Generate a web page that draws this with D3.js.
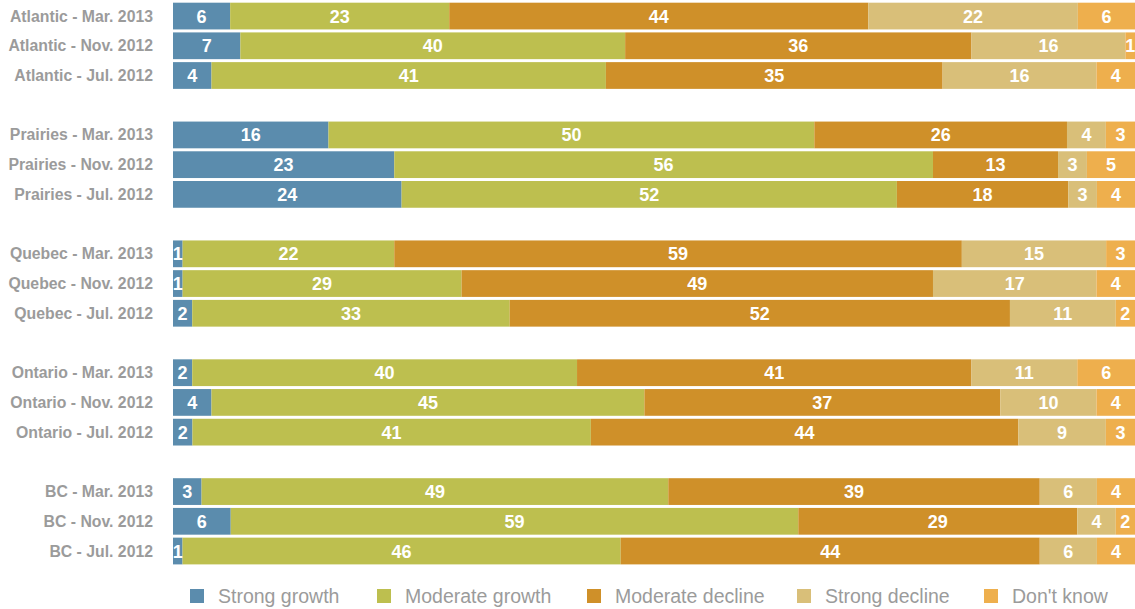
<!DOCTYPE html>
<html>
<head>
<meta charset="utf-8">
<script src="https://cdn.jsdelivr.net/npm/d3@7"></script>
<style>
  body { margin: 0; background: #fff; }
  svg { display: block; font-family: "Liberation Sans", Arial, Helvetica, sans-serif; }
  .row-label { fill: #9b9b9b; font-weight: bold; font-size: 15.8px; }
  .value { fill: #fff; font-weight: bold; font-size: 18px; }
  .legend-text { fill: #9b9b9b; font-size: 19.5px; }
</style>
</head>
<body>
<div id="chart"></div>
<script>
const categories = ["Strong growth", "Moderate growth", "Moderate decline", "Strong decline", "Don't know"];
const colors = ["#5b8cad", "#bdbf4f", "#cf9029", "#d9bf79", "#eeaf4d"];

const regions = ["Atlantic", "Prairies", "Quebec", "Ontario", "BC"];
const periods = ["Mar. 2013", "Nov. 2012", "Jul. 2012"];

// one row per region/period, values in category order
const atlanticValues = [[6, 23, 44, 22, 6], [7, 40, 36, 16, 1], [4, 41, 35, 16, 4]];
const prairiesValues = [[16, 50, 26, 4, 3], [23, 56, 13, 3, 5], [24, 52, 18, 3, 4]];
const quebecValues = [[1, 22, 59, 15, 3], [1, 29, 49, 17, 4], [2, 33, 52, 11, 2]];
const ontarioValues = [[2, 40, 41, 11, 6], [4, 45, 37, 10, 4], [2, 41, 44, 9, 3]];
const bcValues = [[3, 49, 39, 6, 4], [6, 59, 29, 4, 2], [1, 46, 44, 6, 4]];

const valuesByRegion = [atlanticValues, prairiesValues, quebecValues, ontarioValues, bcValues];

const width = 1135;
const height = 609;

const rows = [];
const yDomain = [];
regions.forEach((region, g) => {
  if (g > 0) yDomain.push("gap-" + g);
  periods.forEach((period, p) => {
    const label = `${region} - ${period}`;
    yDomain.push(label);
    rows.push({ label, values: valuesByRegion[g][p] });
  });
});

const svg = d3.select("#chart")
  .append("svg")
  .attr("width", width)
  .attr("height", height);

const y = d3.scaleBand()
  .domain(yDomain)
  .range([1.2, 1.2 + yDomain.length * 29.72])
  .paddingInner(0.1)
  .paddingOuter(0.05);

const barLeft = 173;
const barRight = 1135;

const color = d3.scaleOrdinal().domain(categories).range(colors);

const rowG = svg.append("g")
  .selectAll("g")
  .data(rows)
  .enter()
  .append("g")
  .attr("transform", (d) => `translate(0, ${y(d.label)})`);

rowG.append("text")
  .attr("class", "row-label")
  .attr("x", 153)
  .attr("y", y.bandwidth() / 2 + 5.5)
  .attr("text-anchor", "end")
  .text((d) => d.label);

rowG.each(function (row) {
  const total = d3.sum(row.values);
  const x = d3.scaleLinear().domain([0, total]).range([barLeft, barRight]);
  let acc = 0;
  const segs = row.values.map((v, i) => {
    const s = { cat: categories[i], value: v, x0: acc, x1: acc + v };
    acc += v;
    return s;
  });
  const g = d3.select(this);
  g.selectAll("rect")
    .data(segs)
    .enter()
    .append("rect")
    .attr("x", (d) => x(d.x0))
    .attr("width", (d) => x(d.x1) - x(d.x0))
    .attr("y", 0)
    .attr("height", y.bandwidth())
    .attr("fill", (d) => color(d.cat));
  g.selectAll("text.value")
    .data(segs)
    .enter()
    .append("text")
    .attr("class", "value")
    .attr("x", (d) => (x(d.x0) + x(d.x1)) / 2)
    .attr("y", y.bandwidth() / 2 + 6.5)
    .attr("text-anchor", "middle")
    .text((d) => d.value);
});

// legend, item left edges as in the original layout
const legendX = [190, 377, 587, 797, 984];
const legend = svg.append("g")
  .selectAll("g")
  .data(categories)
  .enter()
  .append("g")
  .attr("transform", (d, i) => `translate(${legendX[i]}, 0)`);

legend.append("rect")
  .attr("x", 0)
  .attr("y", 589)
  .attr("width", 14)
  .attr("height", 14)
  .attr("fill", (d) => color(d));

legend.append("text")
  .attr("class", "legend-text")
  .attr("x", 28)
  .attr("y", 603)
  .text((d) => d);
</script>
</body>
</html>
